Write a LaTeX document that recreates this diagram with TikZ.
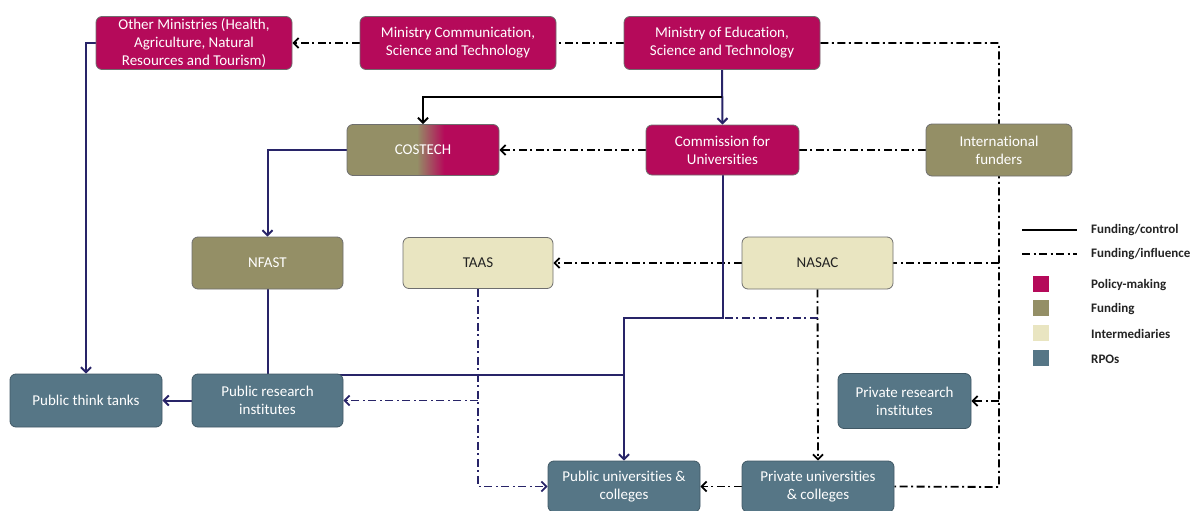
\documentclass[tikz,border=0pt]{standalone}
\usepackage{fontspec}
\setmainfont{Carlito}[Ligatures=NoCommon]
\usetikzlibrary{arrows.meta,backgrounds}
\definecolor{magC}{RGB}{181,10,90}
\definecolor{oliveC}{RGB}{148,143,102}
\definecolor{interC}{RGB}{233,229,193}
\definecolor{rpoC}{RGB}{86,118,134}
\definecolor{navyC}{RGB}{40,36,104}
\definecolor{bordC}{RGB}{110,110,110}
\definecolor{textC}{RGB}{35,35,35}
\pgfdeclarehorizontalshading{costechshade}{100bp}{color(0bp)=(oliveC); color(48bp)=(oliveC); color(57bp)=(magC); color(100bp)=(magC)}
\tikzset{
 box/.style={rectangle, rounded corners=6pt, draw=bordC, line width=0.8pt, inner sep=0pt, align=center, font=\fontsize{15}{18}\selectfont, text=white},
 pol/.style={box, fill=magC},
 fund/.style={box, fill=oliveC},
 inter/.style={box, fill=interC, text=textC},
 rpo/.style={box, fill=rpoC, draw=rpoC!75!black},
 ctrl/.style={draw=navyC, line width=2pt},
 ctrlk/.style={draw=black, line width=2pt},
 infl/.style={draw=black, line width=1.8pt, dash pattern=on 8pt off 3.5pt on 2pt off 3.5pt},
 infln/.style={infl, draw=navyC},
 arr/.style={-{Straight Barb[length=5pt,width=10pt]}},
 legtxt/.style={anchor=west, font=\fontsize{13}{15}\bfseries\selectfont, text=textC, inner sep=0pt},
 legsq/.style={minimum size=16pt, inner sep=0pt, draw=none}
}
\begin{document}
\begin{tikzpicture}[x=1pt,y=-1pt]
\useasboundingbox (0,0) rectangle (1194,511);
% nodes
\node[pol, minimum width=196pt, minimum height=53pt] (om) at (194,43) {Other Ministries (Health,\\Agriculture, Natural\\Resources and Tourism)};
\node[pol, minimum width=196pt, minimum height=53pt] (mcst) at (458,43) {Ministry Communication,\\Science and Technology};
\node[pol, minimum width=196pt, minimum height=53pt] (moe) at (722,43) {Ministry of Education,\\Science and Technology};
\node[box, shading=costechshade, minimum width=152pt, minimum height=51pt] (costech) at (423,150) {COSTECH};
\node[pol, minimum width=153pt, minimum height=50pt] (cfu) at (722.5,150) {Commission for\\Universities};
\node[fund, minimum width=146pt, minimum height=52pt] (intl) at (999,150) {International\\funders};
\node[fund, minimum width=151pt, minimum height=52pt] (nfast) at (267.5,263) {NFAST};
\node[inter, minimum width=150pt, minimum height=51pt] (taas) at (478,263) {TAAS};
\node[inter, minimum width=151pt, minimum height=52pt] (nasac) at (817.5,263) {NASAC};
\node[rpo, minimum width=152pt, minimum height=53pt] (ptt) at (86,400.5) {Public think tanks};
\node[rpo, minimum width=151pt, minimum height=53pt] (pri) at (267.5,400.5) {Public research\\institutes};
\node[rpo, minimum width=133pt, minimum height=55pt] (privri) at (904.5,401) {Private research\\institutes};
\node[rpo, minimum width=152pt, minimum height=51pt] (pubu) at (624,486.5) {Public universities \&\\colleges};
\node[rpo, minimum width=152pt, minimum height=51pt] (privu) at (818,486.5) {Private universities\\\& colleges};
% helper coordinates
\coordinate (j1) at (722,97);
\coordinate (j2) at (722.5,318);
\coordinate (c1) at (999,487);
\begin{scope}[on background layer]
\draw[ctrl,arr] (moe.south) -- (cfu.north);
\draw[ctrlk,arr] (j1) -| (costech.north);
\draw[infl] (moe.west) -- (mcst.east);
\draw[infl,arr] (mcst.west) -- (om.east);
\draw[ctrl,arr] (om.west) -| (ptt.north);
\draw[ctrl,arr] (costech.west) -| (nfast.north);
\draw[infl] (moe.east) -| (c1) -- (privu.east);
\draw[infl] (intl.west) -- (cfu.east);
\draw[infl,arr] (cfu.west) -- (costech.east);
\draw[infl] (c1 |- nasac.east) -- (nasac.east);
\draw[infl,arr] (c1 |- privri.east) -- (privri.east);
\draw[infl,arr] (nasac.west) -- (taas.east);
\draw[infl,arr] (nasac.south) -- (privu.north);
\draw[ctrl,arr] (cfu.south) -- (j2) -| (pubu.north);
\draw[infln] (nasac.south |- j2) -- (j2);
\draw[ctrl,arr] (pri.west) -- (ptt.east);
\draw[ctrl] (nfast.south) -- ([yshift=-1.5pt]pri.north) -- ([yshift=-1.5pt]pri.north -| pubu.north);
\draw[infln,arr] (taas.south) |- (pubu.west);
\draw[infln,arr] (taas.south |- pri.east) -- (pri.east);
\draw[infl,arr] (privu.west) -- (pubu.east);
\end{scope}
% legend
\coordinate (la1) at (1022,230); \coordinate (lb1) at (1077,230);
\coordinate (la2) at (1022,254); \coordinate (lb2) at (1077,254);
\draw[ctrlk, line width=1.8pt] (la1) -- (lb1);
\draw[infl] (la2) -- (lb2);
\node[legtxt] (lt1) at (1091,230) {Funding/control};
\node[legtxt] (lt2) at (1091,254) {Funding/influence};
\node[legsq, fill=magC] (sq1) at (1041,284) {};
\node[legsq, fill=oliveC] (sq2) at (1041,308) {};
\node[legsq, fill=interC] (sq3) at (1041,333) {};
\node[legsq, fill=rpoC] (sq4) at (1041,358) {};
\node[legtxt] (lt3) at (1091,285) {Policy-making};
\node[legtxt] (lt4) at (1091,309) {Funding};
\node[legtxt] (lt5) at (1091,334) {Intermediaries};
\node[legtxt] (lt6) at (1091,359) {RPOs};
\end{tikzpicture}
\end{document}
